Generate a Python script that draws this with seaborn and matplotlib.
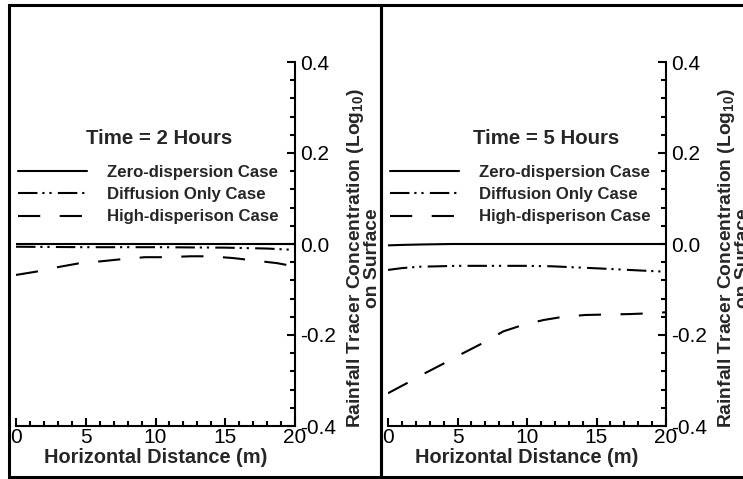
import numpy as np
import pandas as pd
import matplotlib
matplotlib.use("Agg")
import matplotlib.pyplot as plt
import seaborn as sns
from matplotlib.ticker import AutoMinorLocator
from matplotlib.patches import Rectangle

# ---------------- data ----------------
case_labels = ["Zero-dispersion Case", "Diffusion Only Case", "High-disperison Case"]
panel_titles = ["Time = 2 Hours", "Time = 5 Hours"]

# Time = 2 hours
t2_zero_x = [0, 5, 10, 15, 20]
t2_zero_y = [0.0, 0.0, 0.0, 0.0, 0.0]
t2_diff_x = [0, 5, 10, 15, 18, 20]
t2_diff_y = [-0.006, -0.007, -0.007, -0.008, -0.010, -0.013]
t2_high_x = [0, 1.4, 3.15, 4.6, 6.1, 7.7, 9.25, 10.8, 12.5, 13.9, 15.6, 17.0, 18.7, 19.4, 19.86, 20.0]
t2_high_y = [-0.068, -0.061, -0.050, -0.042, -0.038, -0.033, -0.029, -0.029, -0.027, -0.027,
             -0.031, -0.036, -0.042, -0.046, -0.061, -0.078]

# Time = 5 hours
t5_zero_x = [0, 1, 2.5, 4.6, 10, 15, 20]
t5_zero_y = [-0.003, -0.002, -0.001, 0.0, 0.0, 0.0, 0.0]
t5_diff_x = [0, 1, 2.2, 5, 7, 10, 11.8, 15.4, 18, 20]
t5_diff_y = [-0.057, -0.053, -0.050, -0.048, -0.048, -0.048, -0.049, -0.054, -0.058, -0.061]
t5_high_x = [0, 1.35, 2.66, 3.86, 5.4, 6.8, 8.3, 9.7, 11.2, 12.6, 14.2, 15.7, 17.4, 19.1, 20]
t5_high_y = [-0.328, -0.306, -0.284, -0.265, -0.240, -0.218, -0.192, -0.178, -0.167, -0.160,
             -0.156, -0.155, -0.154, -0.152, -0.150]

x_ticks = [0, 5, 10, 15, 20]
y_ticks = [-0.4, -0.2, 0.0, 0.2, 0.4]
y_tick_labels = ["-0.4", "-0.2", "0.0", "0.2", "0.4"]
x_label = "Horizontal Distance (m)"
y_label = "Rainfall Tracer Concentration (Log$_{\\mathbf{10}}$)\non Surface"

panels = [
    [(t2_zero_x, t2_zero_y), (t2_diff_x, t2_diff_y), (t2_high_x, t2_high_y)],
    [(t5_zero_x, t5_zero_y), (t5_diff_x, t5_diff_y), (t5_high_x, t5_high_y)],
]

# ---------------- style ----------------
sns.set_style("white")
plt.rcParams["font.family"] = ["Liberation Sans", "DejaVu Sans"]
plt.rcParams["mathtext.fontset"] = "custom"
plt.rcParams["mathtext.rm"] = "Liberation Sans"
plt.rcParams["mathtext.bf"] = "Liberation Sans:bold"
plt.rcParams["lines.scale_dashes"] = False

line_styles = [
    "-",
    (0, (14, 3.5, 1.6, 3.5, 1.6, 4.5)),
    (0, (16, 14)),
]

fig = plt.figure(figsize=(7.43, 4.79), dpi=100)
W, H = 743.0, 479.0

axes_px = [(16, 295), (388, 666)]
y_top, y_bot = 62, 426

# panel frames
for (x0, x1) in [(9, 380.5), (380.5, 760)]:
    fig.patches.append(Rectangle((x0 / W, 2.5 / H), (x1 - x0) / W, (476.5 - 5) / H,
                                 transform=fig.transFigure, fill=False,
                                 edgecolor="black", linewidth=2.2, zorder=0))

title_x = [0.513, 0.568]

for i, (xl, xr) in enumerate(axes_px):
    ax = fig.add_axes([xl / W, (H - y_bot) / H, (xr - xl) / W, (y_bot - y_top) / H])
    ax.set_facecolor("none")
    for j, (xs, ys) in enumerate(panels[i]):
        df = pd.DataFrame({"x": xs, "y": ys})
        sns.lineplot(data=df, x="x", y="y", ax=ax, color="black", linewidth=1.5,
                     linestyle=line_styles[j], estimator=None, sort=False,
                     label=case_labels[j])
    ax.set_xlim(0, 20)
    ax.set_ylim(-0.4, 0.4)
    ax.margins(0)
    for s in ["top", "left"]:
        ax.spines[s].set_visible(False)
    for s in ["bottom", "right"]:
        ax.spines[s].set_linewidth(1.5)
        ax.spines[s].set_color("black")
    ax.yaxis.tick_right()
    ax.set_xticks(x_ticks)
    ax.set_xticklabels([str(v) for v in x_ticks])
    ax.set_yticks(y_ticks)
    ax.set_yticklabels(y_tick_labels)
    ax.xaxis.set_minor_locator(AutoMinorLocator(5))
    ax.yaxis.set_minor_locator(AutoMinorLocator(5))
    ax.tick_params(axis="both", which="major", direction="in", length=6, width=1.5,
                   labelsize=15, colors="black")
    ax.tick_params(axis="both", which="minor", direction="in", length=3.5, width=1.5,
                   colors="black")
    ax.tick_params(axis="x", which="both", bottom=True, top=False, pad=1.5)
    ax.tick_params(axis="y", which="both", right=True, left=False, pad=4)
    ax.set_xlabel(x_label, fontsize=14.4, fontweight="bold", labelpad=0.5)
    ax.set_ylabel("")
    ax.text(1.245, 0.462, y_label, transform=ax.transAxes, rotation=90,
            ha="center", va="center", multialignment="center",
            fontsize=13.9, fontweight="bold", linespacing=0.85, clip_on=False)
    ax.text(title_x[i], 0.791, panel_titles[i], transform=ax.transAxes,
            ha="center", va="center", fontsize=14.7, fontweight="bold")
    leg = ax.legend(loc="center left", bbox_to_anchor=(0.007, 0.635), frameon=False,
                    prop={"weight": "bold", "size": 12.1},
                    handlelength=4.1, handletextpad=1.2, labelspacing=0.42,
                    borderpad=0, borderaxespad=0)
    for ln in leg.get_lines():
        ln.set_linewidth(1.5)

fig.savefig("out.png", dpi=100)
